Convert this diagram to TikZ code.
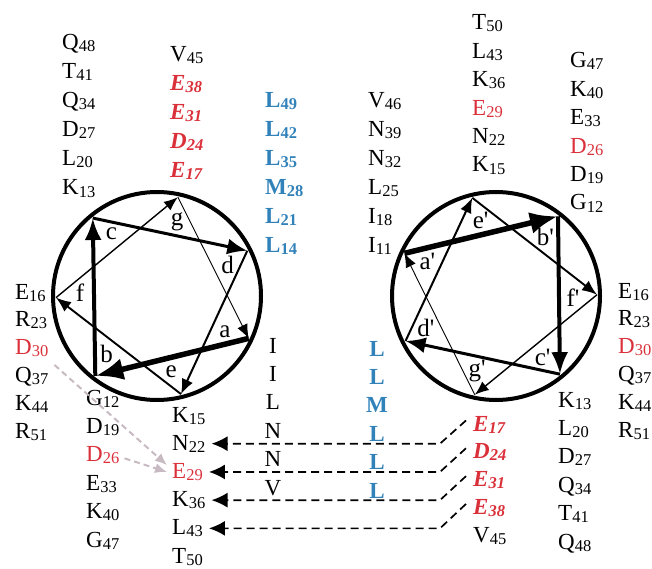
\documentclass[tikz,border=0pt]{standalone}
\usepackage{fontspec}
\setmainfont{Liberation Serif}
\usetikzlibrary{arrows.meta,calc}
\definecolor{resred}{RGB}{218,48,58}
\definecolor{resblue}{RGB}{50,130,186}
\definecolor{resgray}{RGB}{200,186,194}
\newcommand{\rsub}[1]{\raisebox{-2pt}{\fontsize{16.5pt}{16.5pt}\selectfont #1}}
\newcommand{\rescol}[5]{%
  \foreach \t/\n/\s [count=\i from 0] in {#5}
    \node[res,\s] (#1\t\n) at (#2,{#3+#4*\i}) {\t\rsub{\n}};}
\begin{document}
\begin{tikzpicture}[x=1pt,y=-1pt,
  res/.style={anchor=base west,inner sep=0pt,font=\fontsize{23pt}{23pt}\selectfont},
  resc/.style={anchor=base,inner sep=0pt,font=\fontsize{23pt}{23pt}\selectfont},
  blk/.style={text=black},
  redi/.style={text=resred,font=\fontsize{23pt}{23pt}\selectfont\bfseries\itshape},
  redn/.style={text=resred},
  blu/.style={text=resblue,font=\fontsize{23pt}{23pt}\selectfont\bfseries},
  ring/.style={line width=4pt},
  lab/.style={inner sep=0pt,font=\fontsize{25pt}{25pt}\selectfont},
  w1/.style={line width=5.5pt,-{Latex[length=28pt,width=22pt]}},
  w2/.style={line width=4pt,-{Latex[length=22pt,width=17pt]}},
  w3/.style={line width=3pt,-{Latex[length=20pt,width=16pt]}},
  w4/.style={line width=2pt,-{Latex[length=15pt,width=12pt]}},
  w5/.style={line width=1.9pt,-{Latex[length=15pt,width=12pt]}},
  w6/.style={line width=1.4pt,-{Latex[length=14pt,width=11pt]}},
  w7/.style={line width=0.9pt,-{Latex[length=14pt,width=11pt]}},
  dashA/.style={line width=1.7pt,dash pattern=on 8pt off 5pt,-{Latex[length=16pt,width=15pt]}},
  grayA/.style={draw=resgray,line width=2pt,dash pattern=on 6pt off 4pt,-{Latex[length=12pt,width=10pt,fill=resgray]}}
]
\useasboundingbox (0,0) rectangle (652,569);

% residue columns
\rescol{A}{62}{50}{29}{Q/48/blk,T/41/blk,Q/34/blk,D/27/blk,L/20/blk,K/13/blk}
\rescol{B}{170}{62}{29}{V/45/blk,E/38/redi,E/31/redi,D/24/redi,E/17/redi}
\rescol{C}{265}{108}{28.8}{L/49/blu,L/42/blu,L/35/blu,M/28/blu,L/21/blu,L/14/blu}
\rescol{D}{368}{108}{28.8}{V/46/blk,N/39/blk,N/32/blk,L/25/blk,I/18/blk,I/11/blk}
\rescol{E}{472}{30}{28.4}{T/50/blk,L/43/blk,K/36/blk,E/29/redn,N/22/blk,K/15/blk}
\rescol{F}{570}{68}{28.4}{G/47/blk,K/40/blk,E/33/blk,D/26/redn,D/19/blk,G/12/blk}
\rescol{G}{15}{299}{27.8}{E/16/blk,R/23/blk,D/30/redn,Q/37/blk,K/44/blk,R/51/blk}
\rescol{H}{86}{405}{28.4}{G/12/blk,D/19/blk,D/26/redn,E/33/blk,K/40/blk,G/47/blk}
\rescol{I}{172}{422}{28.2}{K/15/blk,N/22/blk,E/29/redn,K/36/blk,L/43/blk,T/50/blk}
\rescol{L}{473}{431}{27.8}{E/17/redi,D/24/redi,E/31/redi,E/38/redi,V/45/blk}
\rescol{M}{558}{407}{28.4}{K/13/blk,L/20/blk,D/27/blk,Q/34/blk,T/41/blk,Q/48/blk}
\rescol{N}{618}{298}{27.8}{E/16/blk,R/23/blk,D/30/redn,Q/37/blk,K/44/blk,R/51/blk}
\foreach \t [count=\i from 0] in {I,I,L,N,N,V}
  \node[resc] (J\i) at (273,{353+28.4*\i}) {\t};
\foreach \t [count=\i from 0] in {L,L,M,L,L,L}
  \node[resc,blu,anchor=base] (K\i) at (377,{356+28.4*\i}) {\t};

% helical wheels
\coordinate (C1) at (157,296);
\coordinate (C2) at (496,296);
\draw[ring] (C1) circle (104);
\draw[ring] (C2) circle (104);
\foreach \l [count=\k from 0] in {a,b,c,d,e,f,g} {
  \coordinate (L\l) at ($(C1)+({24.8+102.857*\k}:101)$);
  \coordinate (R\l) at ($(C2)+({205+102.857*\k}:101)$);
  \node[lab] (Ll\l) at ($(C1)+({28+102.857*\k}:77)$) {\l};
  \node[lab] (Rl\l) at ($(C2)+({207+102.857*\k}:77)$) {\l\textquotesingle};
}
\draw[w1] (La) -- (Lb);
\draw[w2] (Lb) -- (Lc);
\draw[w3] (Lc) -- (Ld);
\draw[w4] (Ld) -- (Le);
\draw[w5] (Le) -- (Lf);
\draw[w6] (Lf) -- (Lg);
\draw[w7] (Lg) -- (La);
\draw[w1] (Ra) -- (Rb);
\draw[w2] (Rb) -- (Rc);
\draw[w3] (Rc) -- (Rd);
\draw[w4] (Rd) -- (Re);
\draw[w5] (Re) -- (Rf);
\draw[w6] (Rf) -- (Rg);
\draw[w7] (Rg) -- (Ra);

% dashed connectors
\coordinate (kx) at (440,0);
\foreach \a/\b in {LE17/IN22, LD24/IE29, LE31/IK36, LE38/IL43}
  \draw[dashA] ([xshift=-7pt,yshift=4pt]\a.west) -- (\b.east -| kx) -- ([xshift=6pt]\b.east);

% gray connectors
\draw[grayA] ([xshift=6pt,yshift=-8pt]GD30.south east) -- ([xshift=-5pt,yshift=-2pt]IE29.north west);
\draw[grayA] ([xshift=5pt,yshift=-3pt]HD26.east) -- ([xshift=-5pt]IE29.west);
\end{tikzpicture}
\end{document}
